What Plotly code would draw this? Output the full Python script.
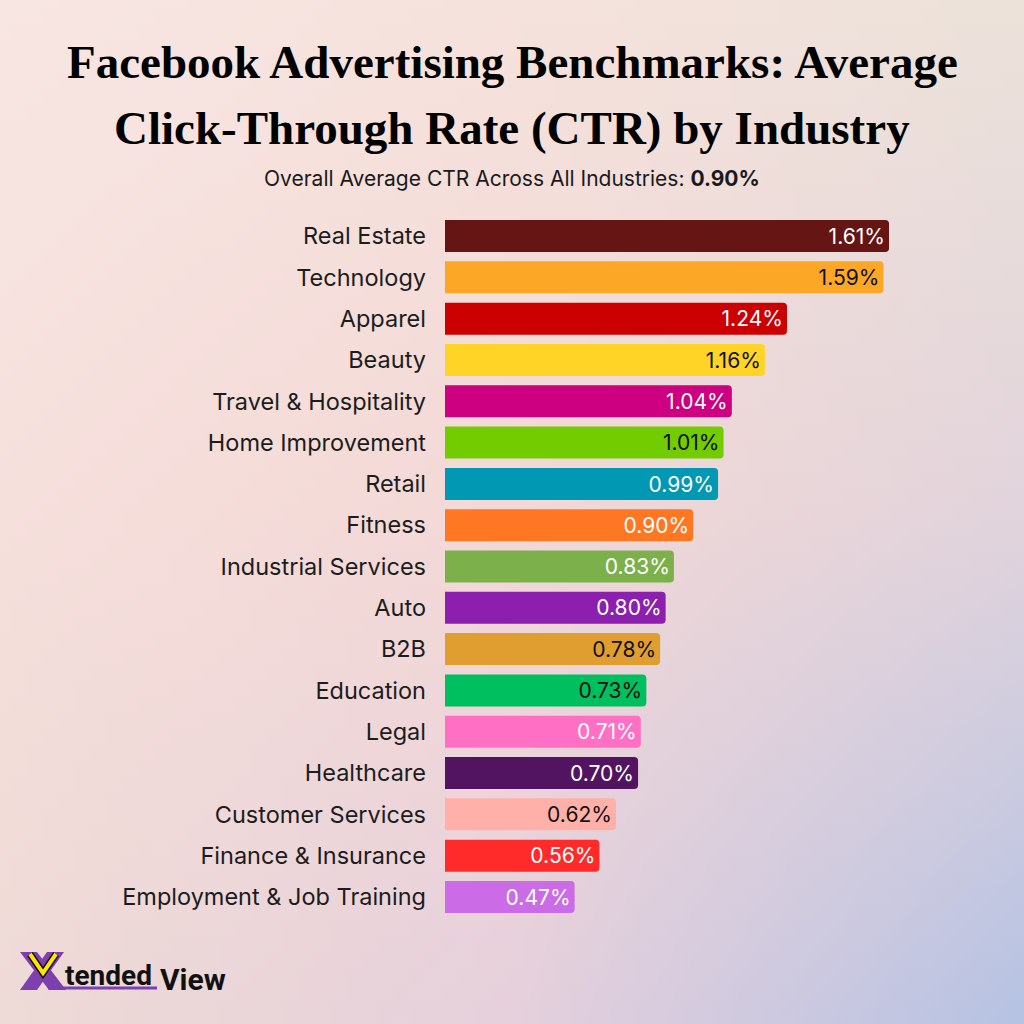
import base64, struct, zlib
import plotly.graph_objects as go

# ---------------- data ----------------
industries = ["Real Estate", "Technology", "Apparel", "Beauty", "Travel & Hospitality",
              "Home Improvement", "Retail", "Fitness", "Industrial Services", "Auto", "B2B",
              "Education", "Legal", "Healthcare", "Customer Services", "Finance & Insurance",
              "Employment & Job Training"]
ctr = [1.61, 1.59, 1.24, 1.16, 1.04, 1.01, 0.99, 0.90, 0.83, 0.80, 0.78,
       0.73, 0.71, 0.70, 0.62, 0.56, 0.47]
bar_colors = ["#661515", "#FDA726", "#CC0000", "#FFD426", "#CC0080", "#73CC00", "#0098B2",
              "#FF7722", "#7CB04A", "#8C1FAE", "#E09E30", "#00BF5F", "#FF70C4", "#521460",
              "#FFB0A8", "#FF2A2A", "#CB6CE6"]
text_colors = ["white", "#111111", "white", "#111111", "white", "#111111", "white",
               "white", "white", "white", "#111111", "#111111", "white", "white",
               "#111111", "white", "white"]
overall_avg = "0.90%"

# ---------------- background gradient image ----------------
grid = [
    [(248, 230, 227), (246, 226, 220), (236, 226, 218)],
    [(246, 224, 220), (243, 216, 214), (226, 212, 220)],
    [(238, 218, 214), (230, 208, 220), (183, 195, 227)],
]

def lerp(a, b, t):
    return a + (b - a) * t

def sample(u, v):
    gx = u * 2
    gy = v * 2
    i = min(int(gx), 1)
    j = min(int(gy), 1)
    tx = gx - i
    ty = gy - j
    out = []
    for c in range(3):
        top = lerp(grid[j][i][c], grid[j][i + 1][c], tx)
        bot = lerp(grid[j + 1][i][c], grid[j + 1][i + 1][c], tx)
        out.append(int(round(lerp(top, bot, ty))))
    return out

N = 64
raw = b""
for yy in range(N):
    row = bytearray([0])
    for xx in range(N):
        row += bytes(sample(xx / (N - 1), yy / (N - 1)))
    raw += bytes(row)

def chunk(tag, data):
    c = struct.pack(">I", len(data)) + tag + data
    return c + struct.pack(">I", zlib.crc32(tag + data) & 0xffffffff)

png = b"\x89PNG\r\n\x1a\n" + chunk(b"IHDR", struct.pack(">IIBBBBB", N, N, 8, 2, 0, 0, 0)) \
      + chunk(b"IDAT", zlib.compress(raw, 9)) + chunk(b"IEND", b"")
bg_uri = "data:image/png;base64," + base64.b64encode(png).decode()

# ---------------- figure ----------------
W = H = 1024
fig = go.Figure()
fig.add_trace(go.Bar(
    x=ctr, y=industries, orientation="h",
    marker=dict(color=bar_colors, cornerradius=4, line=dict(width=0)),
    text=[f"{v:.2f}%" for v in ctr],
    textposition="inside", insidetextanchor="end",
    textfont=dict(family="Inter", size=23.5, color=text_colors),
    constraintext="none",
    hoverinfo="skip",
))

def px(x):
    return x / W

def py(y):
    return 1 - y / H

x0 = 445
scale = 275.8  # px per unit
fig.update_xaxes(visible=False, range=[0, (W - x0) / scale], domain=[px(x0), 1.0], fixedrange=True)
fig.update_yaxes(type="category", categoryorder="array", categoryarray=industries,
                 range=[len(industries) - 0.5, -0.5], domain=[py(917.6), py(215.4)],
                 showgrid=False, zeroline=False, showline=False, ticks="",
                 ticklabelstandoff=18,
                 tickfont=dict(family="Inter", size=23.5, color="#1c1c1c"), fixedrange=True)

annotations = [
    dict(text="Facebook Advertising Benchmarks: Average", x=0.5, y=py(62),
         font=dict(family="Liberation Serif", size=47, color="#000000", weight="bold")),
    dict(text="Click-Through Rate (CTR) by Industry", x=0.5, y=py(128),
         font=dict(family="Liberation Serif", size=47, color="#000000", weight="bold")),
    dict(text=f"Overall Average CTR Across All Industries: <b>{overall_avg}</b>", x=0.5, y=py(178),
         font=dict(family="Inter", size=21, color="#1a1a1a")),
    dict(text="<b>tended</b>", x=px(63), y=py(975), xanchor="left",
         font=dict(family="Roboto", size=28, color="#111111")),
    dict(text="<b>View</b>", x=px(158), y=py(979), xanchor="left",
         font=dict(family="Roboto", size=30, color="#111111")),
]
for a in annotations:
    a.setdefault("xanchor", "center")
    a["yanchor"] = "middle"
    a["xref"] = "paper"
    a["yref"] = "paper"
    a["showarrow"] = False

def path(points):
    return "M " + " L ".join(f"{px(x):.5f},{py(y):.5f}" for x, y in points) + " Z"

def open_path(points):
    return "M " + " L ".join(f"{px(x):.5f},{py(y):.5f}" for x, y in points)

purple = "#7E3FB0"
shapes = [
    dict(type="path", path=path([(20, 952), (37, 952), (66, 990), (49, 990)]),
         fillcolor=purple, line=dict(width=0)),
    dict(type="path", path=path([(47, 952), (64, 952), (37, 990), (20, 990)]),
         fillcolor=purple, line=dict(width=0)),
    dict(type="path", path=path([(48, 986.5), (157, 986.5), (157, 989.5), (48, 989.5)]),
         fillcolor=purple, line=dict(width=0)),
    dict(type="path", path=open_path([(30, 954), (43, 973), (56, 954)]),
         line=dict(color="#111111", width=7)),
    dict(type="path", path=open_path([(30, 954), (43, 973), (56, 954)]),
         line=dict(color="#FFE600", width=4)),
]
for s in shapes:
    s["xref"] = "paper"
    s["yref"] = "paper"

fig.update_layout(
    width=W, height=H, margin=dict(l=0, r=0, t=0, b=0),
    paper_bgcolor="#F3DCD8", plot_bgcolor="rgba(0,0,0,0)",
    bargap=0.225, showlegend=False,
    annotations=annotations, shapes=shapes,
    images=[dict(source=bg_uri, xref="paper", yref="paper", x=0, y=1, sizex=1, sizey=1,
                 xanchor="left", yanchor="top", sizing="stretch", layer="below")],
    uniformtext=dict(mode=False),
)

fig.write_html("out.html", config={"displayModeBar": False})
